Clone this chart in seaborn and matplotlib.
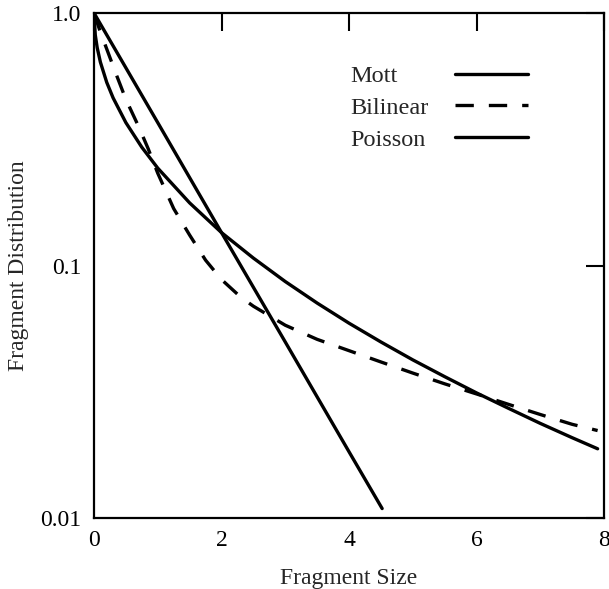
import matplotlib
matplotlib.use("Agg")
from matplotlib import pyplot as plt
from matplotlib.ticker import NullLocator
import seaborn as sns

# values
mott_x = [0, 0.02, 0.05, 0.1, 0.2, 0.3, 0.5, 0.75, 1.0, 1.5, 2.0, 2.5, 3.0,
          3.5, 4.0, 4.5, 5.0, 5.5, 6.0, 6.5, 7.0, 7.5, 7.9]
mott_y = [1.0, 0.819, 0.729, 0.639, 0.531, 0.461, 0.368, 0.294, 0.243, 0.177,
          0.135, 0.107, 0.0864, 0.071, 0.0591, 0.0498, 0.0423, 0.0363, 0.0313,
          0.0272, 0.0237, 0.0208, 0.0188]

bilinear_x = [0, 0.1, 0.2, 0.35, 0.5, 0.7, 0.85, 1.0, 1.25, 1.5, 1.75, 2.0,
              2.3, 2.5, 3.0, 3.5, 4.0, 4.5, 5.0, 5.5, 6.0, 6.5, 7.0, 7.5, 7.9]
bilinear_y = [1.0, 0.84, 0.72, 0.57, 0.455, 0.355, 0.29, 0.232, 0.168, 0.132,
              0.105, 0.088, 0.075, 0.069, 0.058, 0.051, 0.046, 0.0415, 0.0375,
              0.034, 0.031, 0.0282, 0.0257, 0.0235, 0.0222]

poisson_x = [0, 1.0, 2.0, 3.0, 4.0, 4.52]
poisson_y = [1.0, 0.368, 0.135, 0.0498, 0.0183, 0.0109]

xticks = [0, 2, 4, 6, 8]
yticks = [0.01, 0.1, 1.0]
ytick_labels = ["0.01", "0.1", "1.0"]

sns.set_style("white")
plt.rcParams['font.family'] = ['Liberation Serif', 'DejaVu Serif']

fig = plt.figure(figsize=(6.09, 5.89), dpi=100)
ax = fig.add_axes([94 / 609, 1 - 518 / 589, 510 / 609, 505 / 589])

lw = 2.4
sns.lineplot(x=mott_x, y=mott_y, ax=ax, color='black', linewidth=lw, label='Mott')
sns.lineplot(x=bilinear_x, y=bilinear_y, ax=ax, color='black', linewidth=lw,
             linestyle=(0, (5.5, 4.5)), label='Bilinear')
sns.lineplot(x=poisson_x, y=poisson_y, ax=ax, color='black', linewidth=lw, label='Poisson')

ax.set_yscale('log')
ax.set_xlim(0, 8)
ax.set_ylim(0.01, 1.0)
ax.set_xticks(xticks)
ax.set_xticklabels([str(t) for t in xticks])
ax.set_yticks(yticks)
ax.set_yticklabels(ytick_labels)
ax.yaxis.set_minor_locator(NullLocator())
ax.xaxis.set_minor_locator(NullLocator())
ax.tick_params(direction='in', length=13, width=1.5, labelsize=17, pad=9,
               top=True, right=True, colors='black')
for s in ax.spines.values():
    s.set_linewidth(1.6)
    s.set_color('black')

ax.set_xlabel('Fragment Size', fontsize=17)
ax.set_ylabel('Fragment Distribution', fontsize=17)
ax.xaxis.set_label_coords(0.5, -0.099)
ax.yaxis.set_label_coords(-0.127, 0.5)

leg = ax.legend(loc='upper left', bbox_to_anchor=(0.502, 0.897), frameon=False,
                fontsize=17.5, markerfirst=False, handlelength=3.0,
                labelspacing=0.4, borderpad=0, borderaxespad=0)
# texts left aligned, keys right aligned, like the original
for col in leg._legend_handle_box.get_children():
    for item in col.get_children():
        item.width = 178
        item.mode = 'expand'

fig.savefig('out.png', dpi=100)
